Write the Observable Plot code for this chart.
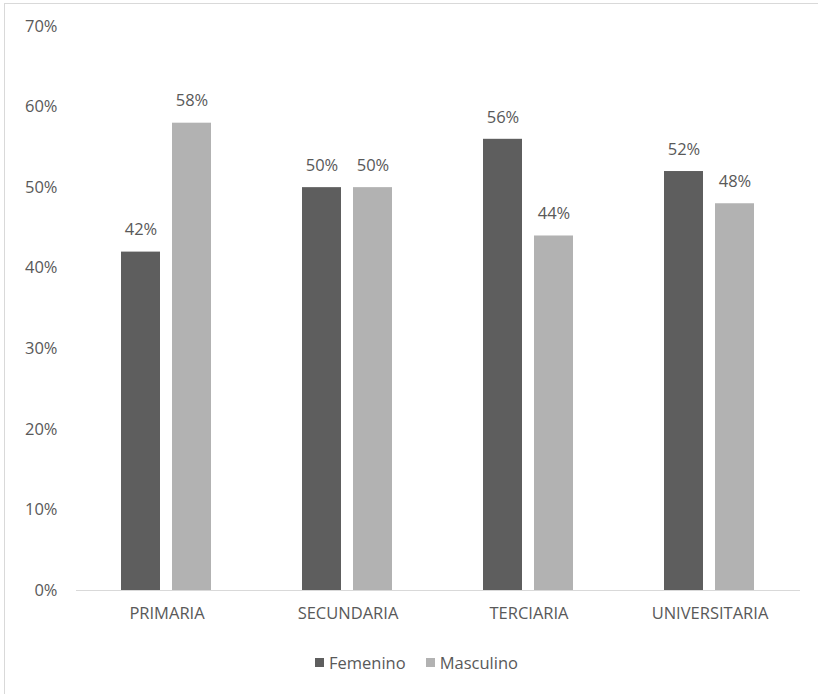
<!DOCTYPE html>
<html>
<head>
<meta charset="utf-8">
<script src="https://cdn.jsdelivr.net/npm/d3@7"></script>
<script src="https://cdn.jsdelivr.net/npm/@observablehq/plot@0.6"></script>
<style>
  html, body { margin: 0; padding: 0; background: #fff; }
  #wrap { position: relative; width: 818px; height: 694px; overflow: hidden; font-family: "Open Sans", sans-serif; }
  #frame { position: absolute; left: 4px; top: 3px; width: 830px; height: 720px; border-left: 1px solid #d9d9d9; border-top: 1px solid #d9d9d9; box-sizing: border-box; pointer-events: none; }
  #chart { position: absolute; left: 0; top: 0; }
  #legend { position: absolute; top: 651px; left: 315px; display: flex; align-items: center; font-size: 16.5px; line-height: 23px; color: #595959; white-space: nowrap; }
  #legend .sw { display: inline-block; width: 9px; height: 9px; margin-right: 5px; }
  #legend .item { display: flex; align-items: center; margin-right: 20px; }
</style>
</head>
<body>
<div id="wrap">
  <div id="frame"></div>
  <div id="chart"></div>
  <div id="legend"></div>
</div>
<script>
const categories = ["PRIMARIA", "SECUNDARIA", "TERCIARIA", "UNIVERSITARIA"];
const series = ["Femenino", "Masculino"];
const femenino = [0.42, 0.50, 0.56, 0.52];
const masculino = [0.58, 0.50, 0.44, 0.48];
const yTicks = [0, 0.1, 0.2, 0.3, 0.4, 0.5, 0.6, 0.7];
const colors = ["#5e5e5e", "#b2b2b2"];

const rows = [];
categories.forEach((c, i) => {
  rows.push({cat: c, serie: series[0], value: femenino[i]});
  rows.push({cat: c, serie: series[1], value: masculino[i]});
});

const pct = d3.format(".0%");

const chart = Plot.plot({
  width: 818,
  height: 640,
  marginTop: 26,
  marginBottom: 50,
  marginLeft: 74,
  marginRight: 17,
  style: {fontFamily: "Open Sans, sans-serif", fontSize: "16.5px", color: "#595959", background: "transparent"},
  fx: {domain: categories, padding: 0, label: null, tickSize: 0, tickPadding: 17},
  x: {domain: series, paddingInner: 0.23, paddingOuter: 0.865, axis: null},
  y: {domain: [0, 0.7], ticks: yTicks, tickFormat: pct, tickSize: 0, tickPadding: 19, label: null},
  color: {domain: series, range: colors},
  marks: [
    Plot.barY(rows, {fx: "cat", x: "serie", y: "value", fill: "serie"}),
    Plot.ruleY([0], {stroke: "#d9d9d9", strokeWidth: 1}),
    Plot.text(rows, {fx: "cat", x: "serie", y: "value", text: d => pct(d.value), dy: -22, fill: "#595959", fontSize: 16.5})
  ]
});
document.getElementById("chart").appendChild(chart);

const legend = document.getElementById("legend");
series.forEach((s, i) => {
  const item = document.createElement("span");
  item.className = "item";
  const sw = document.createElement("span");
  sw.className = "sw";
  sw.style.background = colors[i];
  const t = document.createElement("span");
  t.textContent = s;
  item.appendChild(sw);
  item.appendChild(t);
  legend.appendChild(item);
});
</script>
</body>
</html>
